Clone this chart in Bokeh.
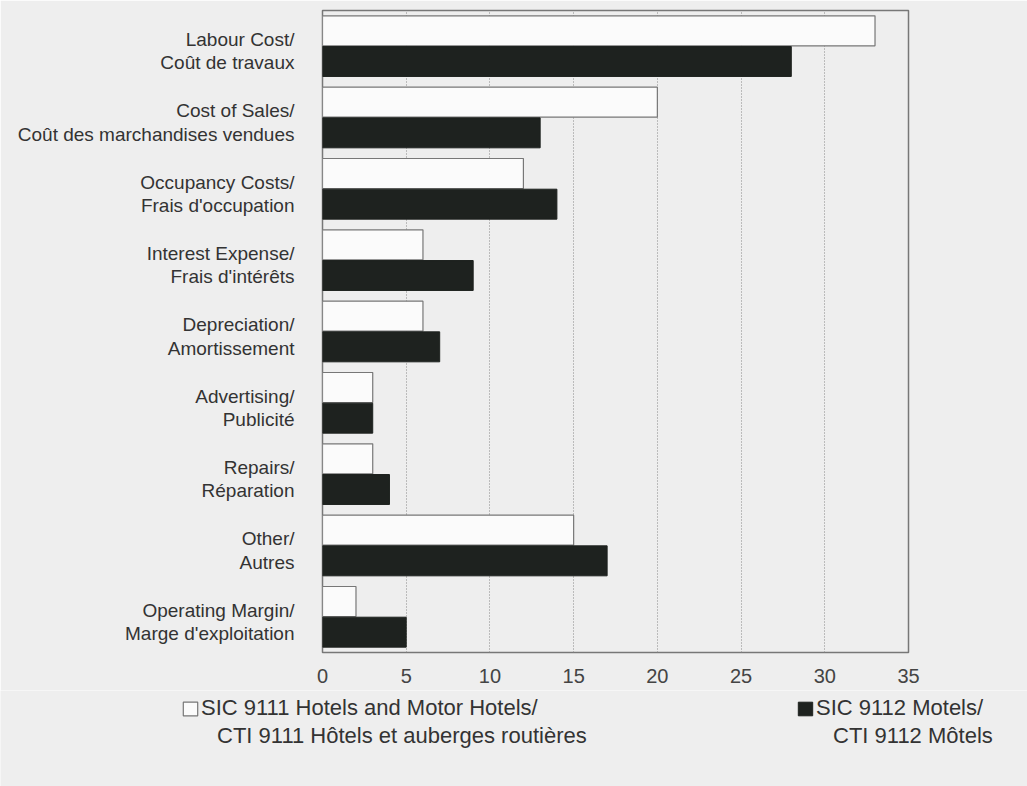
from bokeh.plotting import figure
from bokeh.models import Range1d, FixedTicker, Legend, LegendItem
from bokeh.embed import file_html
from bokeh.resources import INLINE

categories = [
    "Labour Cost/\nCoût de travaux",
    "Cost of Sales/\nCoût des marchandises vendues",
    "Occupancy Costs/\nFrais d'occupation",
    "Interest Expense/\nFrais d'intérêts",
    "Depreciation/\nAmortissement",
    "Advertising/\nPublicité",
    "Repairs/\nRéparation",
    "Other/\nAutres",
    "Operating Margin/\nMarge d'exploitation",
]
hotels = [33, 20, 12, 6, 6, 3, 3, 15, 2]
motels = [28, 13, 14, 9, 7, 3, 4, 17, 5]
x_ticks = [0, 5, 10, 15, 20, 25, 30, 35]
hotels_label = ["SIC 9111 Hotels and Motor Hotels/", "CTI 9111 Hôtels et auberges routières"]
motels_label = ["SIC 9112 Motels/", "CTI 9112 Môtels"]

n = len(categories)
centers = [n - 0.5 - i for i in range(n)]
off = 0.215
bh = 0.42

BG = "#eeeeee"
FONT = "Liberation Sans"
H_STYLE = dict(fill_color="#fbfbfb", line_color="#777777", line_width=1.2)
M_STYLE = dict(fill_color="#1e221f", line_color="#1e221f", line_width=1)

p = figure(width=1027, height=690, output_backend="svg", toolbar_location=None,
           x_range=Range1d(0, 35), y_range=Range1d(0, n),
           min_border_left=322, min_border_right=119, min_border_top=10, min_border_bottom=38,
           background_fill_color=BG, border_fill_color=BG,
           outline_line_color="#777777", outline_line_width=1.5)

p.hbar(y=[c + off for c in centers], right=hotels, left=0, height=bh, **H_STYLE)
p.hbar(y=[c - off for c in centers], right=motels, left=0, height=bh, **M_STYLE)

p.xaxis.ticker = FixedTicker(ticks=x_ticks)
p.xaxis.axis_line_color = None
p.xaxis.major_tick_line_color = None
p.xaxis.minor_tick_line_color = None
p.xaxis.major_label_standoff = 10
p.xaxis.major_label_text_font = FONT
p.xaxis.major_label_text_font_size = "20px"
p.xaxis.major_label_text_color = "#444444"

label_pos = [c - 0.07 for c in centers]
p.yaxis.ticker = FixedTicker(ticks=label_pos)
p.yaxis.major_label_overrides = {c: lab for c, lab in zip(label_pos, categories)}
p.yaxis.axis_line_color = None
p.yaxis.major_tick_line_color = None
p.yaxis.minor_tick_line_color = None
p.yaxis.major_label_standoff = 22
p.yaxis.major_label_text_font = FONT
p.yaxis.major_label_text_font_size = "19px"
p.yaxis.major_label_text_color = "#333333"
p.yaxis.major_label_text_line_height = 1.12

p.xgrid.ticker = FixedTicker(ticks=[5, 10, 15, 20, 25, 30])
p.xgrid.grid_line_color = "#888888"
p.xgrid.grid_line_dash = "1 2"
p.xgrid.grid_line_width = 1
p.ygrid.grid_line_color = None

# legend strip below the chart (separate root, so its frame spans the full width)
QH = 96
q = figure(width=1027, height=QH, output_backend="svg", toolbar_location=None,
           x_range=Range1d(0, 1), y_range=Range1d(0, 1),
           x_axis_location=None, y_axis_location=None,
           min_border_left=0, min_border_right=0, min_border_top=0, min_border_bottom=0,
           background_fill_color=BG, border_fill_color=BG, outline_line_color=None)
q.grid.visible = False
lh = q.hbar(y=[-5], right=[1], left=0, height=0.1, **H_STYLE)
lm = q.hbar(y=[-5], right=[1], left=0, height=0.1, **M_STYLE)
blank = q.hbar(y=[-5], right=[1], left=0, height=0.1, fill_alpha=0, line_alpha=0)

common = dict(background_fill_alpha=0, border_line_color=None,
              padding=0, margin=0, spacing=0,
              label_text_font=FONT, label_text_font_size="22px",
              label_text_color="#333333", label_text_line_height=1.2,
              label_height=26)

def add_line(label, rend, x, vy, glyph=True):
    if glyph:
        lg = Legend(items=[LegendItem(label=label, renderers=[rend])], location=(x, vy),
                    glyph_width=18, glyph_height=17, label_standoff=2, **common)
    else:
        lg = Legend(items=[LegendItem(label=label, renderers=[rend])], location=(x, vy),
                    glyph_width=1, glyph_height=1, label_standoff=0, **common)
    q.add_layout(lg, "center")

add_line(hotels_label[0], lh, 181, 65)
add_line(hotels_label[1], blank, 216, 37, glyph=False)
add_line(motels_label[0], lm, 796, 65)
add_line(motels_label[1], blank, 832, 37, glyph=False)

open("out.html", "w").write(file_html([p, q], INLINE))
